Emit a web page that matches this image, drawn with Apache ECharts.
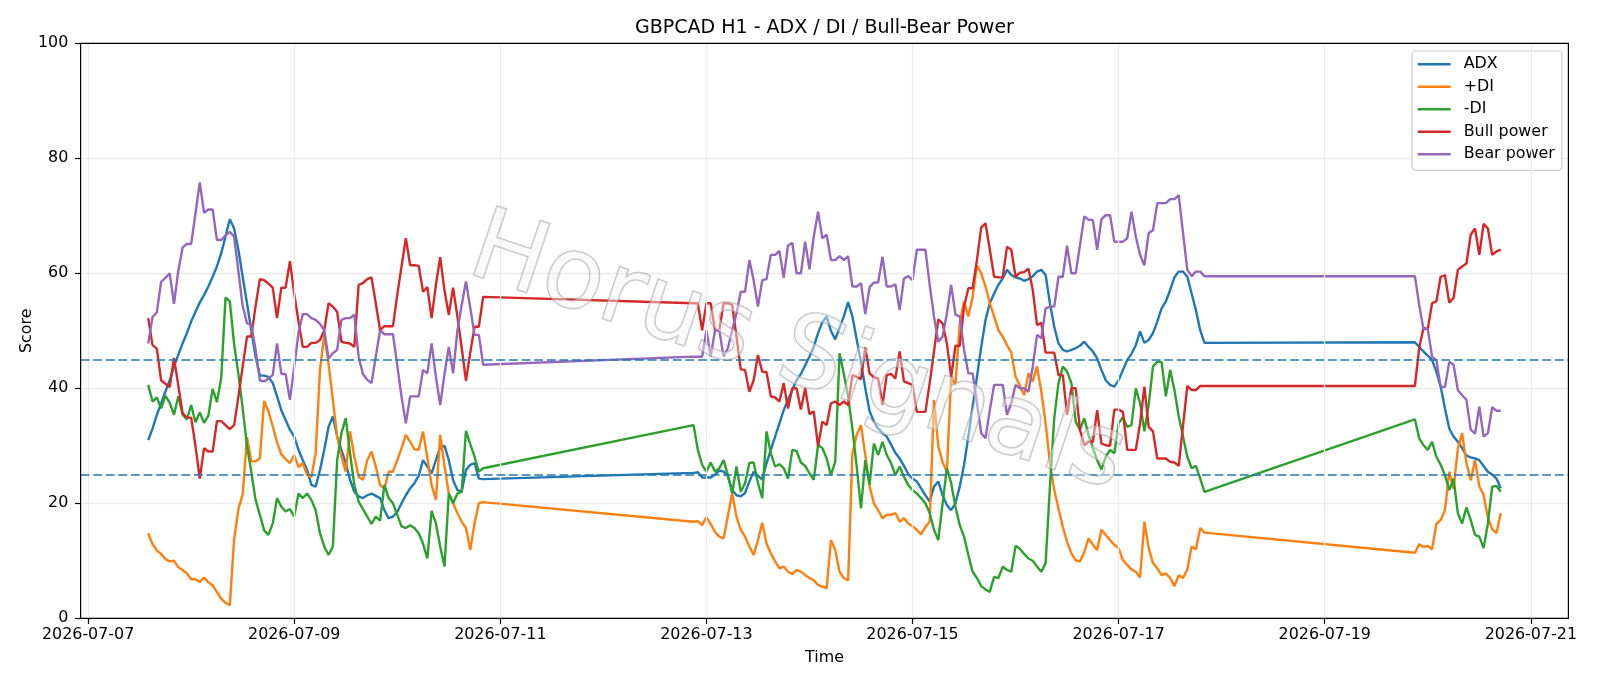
<!DOCTYPE html>
<html><head><meta charset="utf-8">
<script src="https://cdn.jsdelivr.net/npm/echarts@6/dist/echarts.min.js"></script>
<style>html,body{margin:0;padding:0;background:#fff}#c{width:1600px;height:686px}</style>
</head><body><div id="c"></div>
<script>
// hourly bars (UTC), three trading blocks separated by weekends
const segStarts = ['2026-07-07T14:00:00Z', '2026-07-12T21:00:00Z', '2026-07-19T21:00:00Z'];
const segLengths = [79, 120, 21];

const adx = [
31.0,33.0,35.4,37.4,39.4,41.4,43.8,45.8,47.8,49.6,51.6,53.3,54.9,56.2,57.7,59.4,61.2,63.5,66.4,69.4,
67.8,64.1,59.4,54.8,50.1,45.5,42.2,42.2,42.0,40.9,38.6,36.2,34.5,32.8,31.6,29.3,27.5,25.8,23.2,22.9,
25.8,29.3,33.3,35.1,31.6,29.3,27.0,24.1,22.0,21.2,20.9,21.4,21.7,21.3,20.9,18.8,17.4,17.7,18.5,20.0,
21.4,22.6,23.5,24.8,27.5,26.4,25.2,27.5,29.8,30.0,27.5,24.0,22.3,22.0,25.8,26.7,27.0,24.3,24.2,
25.3,25.4,24.5,24.5,24.5,25.0,25.7,25.5,24.7,22.3,21.4,21.2,21.8,23.8,25.5,24.8,24.1,27.0,29.3,31.6,
33.9,36.2,38.0,39.7,41.4,42.5,44.0,45.5,47.2,49.6,51.5,52.5,50.0,48.5,50.5,52.5,55.0,52.5,48.5,44.5,
40.0,36.0,34.2,33.0,32.2,31.6,30.2,28.8,27.8,26.5,25.1,24.3,23.8,22.6,21.4,20.3,22.9,23.8,21.4,19.7,
18.8,20.0,22.9,26.7,31.6,36.8,42.0,47.2,51.9,54.8,56.5,58.0,59.1,60.6,59.7,59.3,59.1,58.7,59.0,59.5,
60.3,60.6,59.7,54.8,50.7,47.8,46.7,46.4,46.7,47.0,47.4,48.1,47.2,46.4,45.2,43.2,41.4,40.6,40.3,41.4,
43.2,44.9,46.0,47.5,49.9,47.9,48.4,49.6,51.6,53.9,55.1,57.1,59.3,60.3,60.3,59.4,56.5,53.6,50.1,47.9,
48.0,47.2,46.4,45.7,44.9,42.9,40.3,36.5,33.0,31.6,30.7,29.6,28.3,28.0,27.8,27.5,26.5,25.5,25.0,24.3,22.6
];
const plusDI = [
14.8,12.9,11.8,11.2,10.3,9.9,10.0,8.9,8.4,7.8,6.8,6.8,6.3,7.1,6.3,5.7,4.6,3.4,2.7,2.3,
13.7,19.0,21.6,31.5,27.3,27.3,27.8,37.8,36.0,33.4,30.6,28.5,27.7,27.0,28.4,26.3,27.0,24.9,24.6,28.7,
43.2,49.3,44.3,38.0,31.6,28.1,25.5,32.5,28.1,24.6,24.1,27.5,29.0,26.4,23.2,22.5,25.5,25.5,27.5,29.6,
31.9,30.7,29.4,29.3,32.5,28.0,23.2,20.6,31.9,26.5,21.7,20.0,18.3,16.8,15.7,11.9,16.5,20.0,20.2,
16.8,16.9,16.2,17.6,16.4,15.0,14.2,13.9,17.8,21.7,17.7,15.4,14.2,12.5,11.0,13.6,16.6,13.0,11.3,9.9,
8.7,9.0,8.1,7.7,8.4,8.1,7.5,7.0,6.6,5.8,5.5,5.2,13.6,11.9,8.1,7.0,6.6,28.7,31.9,33.6,
28.4,22.9,20.0,18.8,17.4,18.0,18.0,18.3,16.8,17.4,16.5,16.0,15.4,14.6,15.9,16.8,38.0,29.9,27.2,25.5,
42.0,40.6,51.3,55.1,52.5,55.9,61.4,60.0,57.7,54.8,52.5,50.1,49.0,47.5,46.2,42.0,40.5,38.8,42.6,41.2,
43.8,39.4,33.9,27.0,22.3,19.1,15.9,13.3,11.3,10.1,9.9,11.5,13.9,12.8,11.9,15.4,14.5,13.6,12.8,12.2,
10.1,9.3,8.5,8.1,7.1,16.8,12.2,9.6,8.7,7.5,7.8,7.0,5.6,7.5,7.0,8.5,12.5,12.0,15.7,14.9,
11.4,12.9,12.4,12.6,12.0,16.4,17.1,18.8,25.5,22.5,29.5,32.2,27.0,24.0,27.5,23.0,21.5,17.5,15.5,14.8,18.3
];
const minusDI = [
40.6,37.7,38.4,36.5,38.7,37.5,35.4,38.6,35.4,34.6,37.1,34.1,35.8,34.0,35.2,39.9,37.6,41.8,55.8,55.1,
47.7,42.5,36.5,30.0,25.5,20.6,18.0,15.3,14.5,16.5,20.9,19.4,18.6,19.0,17.7,21.7,20.9,21.7,20.6,18.8,
14.8,12.5,11.0,12.5,27.5,32.2,34.8,28.7,23.2,20.3,19.0,17.7,16.4,17.7,17.0,23.2,20.9,20.0,18.0,16.0,
15.7,16.2,15.7,14.8,13.0,10.4,18.7,16.5,12.5,9.0,21.7,20.0,21.7,22.0,32.6,30.3,28.1,25.5,26.1,
33.6,29.3,26.7,25.5,27.1,25.5,26.1,27.5,24.9,21.7,26.4,22.0,23.5,27.0,27.1,23.5,20.9,32.5,28.7,26.4,
26.8,26.1,24.3,29.3,29.1,27.1,26.5,25.2,24.1,30.1,29.6,27.8,24.9,27.2,46.1,42.5,38.6,33.0,26.4,19.1,
27.5,23.2,30.4,28.4,30.7,28.4,27.0,24.9,26.4,24.6,23.2,22.3,21.7,20.9,20.0,18.3,15.4,13.6,20.0,26.1,
23.5,19.4,16.2,14.2,11.0,8.1,7.0,5.6,5.0,4.6,7.2,7.0,9.0,8.4,8.1,12.6,12.1,11.2,10.4,10.0,
9.0,8.1,9.6,22.9,34.8,40.9,43.8,42.9,40.9,34.2,32.8,34.8,31.9,29.6,27.5,25.9,28.1,29.3,28.7,33.9,
35.0,33.3,33.6,40.0,37.4,32.5,37.1,43.8,44.6,44.6,38.6,43.2,39.7,35.1,31.6,28.1,26.1,26.5,24.3,22.0,
34.6,31.3,30.1,29.3,30.7,28.1,26.7,24.9,22.3,24.3,18.3,16.5,19.3,17.1,14.5,14.2,12.2,16.5,22.9,23.0,22.0
];
const bullPower = [
52.2,47.5,46.9,41.4,40.8,40.2,45.3,40.5,35.7,34.9,34.9,30.0,24.3,29.6,29.0,29.0,34.3,34.3,33.6,32.9,
33.6,38.5,43.8,49.0,49.0,54.3,59.0,58.8,58.2,57.5,52.2,57.5,57.5,62.1,56.5,51.6,47.2,47.2,47.9,47.9,
48.4,50.1,54.8,54.2,53.3,48.1,47.9,47.8,47.2,58.0,58.3,59.0,59.3,54.8,50.1,50.8,50.8,50.8,56.3,61.2,
66.1,61.4,61.4,61.3,56.8,57.6,52.2,58.0,62.8,57.0,52.8,57.5,52.5,47.1,41.3,46.2,50.7,50.7,55.9,
54.8,54.8,50.1,54.8,54.8,50.1,50.1,54.8,54.8,54.5,49.0,43.3,43.2,39.4,41.4,45.8,42.9,42.8,38.6,38.4,
37.7,40.9,36.5,40.0,40.0,36.3,40.0,35.5,36.0,29.9,34.2,33.6,37.4,37.7,37.1,37.7,37.1,42.3,42.0,41.6,
47.1,42.6,41.9,41.7,37.1,42.3,42.5,41.7,46.4,41.2,40.9,40.6,35.9,35.9,35.9,40.9,46.4,52.0,51.3,47.8,
42.0,47.4,47.4,54.2,57.4,57.4,62.3,68.0,68.7,64.1,59.4,59.3,59.3,64.6,64.1,59.4,60.1,60.2,60.8,57.1,
51.0,51.4,46.2,46.2,46.2,42.3,42.3,35.4,40.0,40.0,32.8,30.1,30.7,30.7,36.2,30.4,30.1,30.0,36.3,36.3,
35.9,29.3,29.3,29.3,33.9,40.3,33.3,32.5,27.8,27.8,27.8,27.2,27.1,26.5,33.5,40.4,39.7,39.7,40.4,40.4,
40.4,47.0,50.5,50.3,54.8,55.1,59.4,59.7,54.9,55.7,60.6,61.2,61.7,66.7,67.8,63.2,68.6,67.8,63.2,63.8,64.1
];
const bearPower = [
47.8,52.4,53.2,58.5,59.2,60.0,54.7,60.4,64.5,65.1,65.1,70.4,75.8,70.5,71.1,71.1,65.8,65.8,66.6,67.2,
66.4,60.4,54.3,51.3,51.1,46.7,41.4,41.2,41.7,42.3,47.8,42.5,42.5,38.0,43.7,49.7,52.9,52.9,52.2,51.9,
51.2,50.1,45.2,46.1,46.7,51.9,52.2,52.2,52.8,45.5,42.5,41.5,40.9,45.5,50.1,49.4,49.4,49.4,44.0,38.5,
33.9,38.6,38.6,38.6,43.2,42.6,47.8,42.0,37.1,42.5,47.2,42.6,50.0,54.5,58.6,54.0,49.3,49.3,44.1,
45.5,45.5,45.5,50.1,45.5,50.1,50.1,45.5,47.0,50.1,53.0,56.8,56.8,62.3,58.8,54.2,58.8,59.0,63.2,63.2,
63.9,59.2,64.8,65.3,60.0,60.0,65.5,60.7,66.4,70.7,66.1,66.7,62.3,62.3,63.0,62.3,63.0,57.7,57.7,58.3,
52.9,57.6,58.4,58.4,62.9,57.7,57.7,58.1,53.6,59.1,59.5,58.8,64.1,64.1,64.1,58.0,52.5,48.1,49.0,53.0,
58.0,52.8,52.5,46.7,42.6,42.6,37.4,32.2,31.3,36.2,40.6,40.6,40.6,35.4,37.4,40.6,40.0,40.0,39.4,43.8,
49.3,48.7,53.9,54.2,54.2,59.4,59.4,64.8,60.0,60.0,64.9,69.9,69.3,69.3,64.1,69.4,70.1,70.1,65.5,65.5,
65.5,66.1,70.7,66.4,63.2,61.4,67.0,67.5,72.2,72.2,72.2,72.9,72.9,73.6,67.0,60.6,59.5,60.3,60.3,59.5,
59.5,54.5,50.3,50.3,45.5,44.9,40.3,40.2,44.6,44.1,39.7,38.8,38.0,32.8,32.1,36.8,31.6,32.2,36.7,36.1,36.1
];

const xTickLabels = ['2026-07-07','2026-07-09','2026-07-11','2026-07-13','2026-07-15','2026-07-17','2026-07-19','2026-07-21'];
const yTicks = [0, 20, 40, 60, 80, 100];
const refLevels = [45, 25];
const seriesNames = ['ADX', '+DI', '-DI', 'Bull power', 'Bear power'];
const seriesColors = ['#1f77b4', '#ff7f0e', '#2ca02c', '#d62728', '#9467bd'];
const seriesValues = [adx, plusDI, minusDI, bullPower, bearPower];

const H = 3600 * 1000;
const times = [];
segStarts.forEach((s, k) => {
  const t0 = Date.parse(s);
  for (let i = 0; i < segLengths[k]; i++) times.push(t0 + i * H);
});
const tickVals = xTickLabels.map(d => Date.parse(d + 'T00:00:00Z'));
const tFirst = times[0], tLast = times[times.length - 1];
const pad = (tLast - tFirst) * 0.05;
const FONT = 'DejaVu Sans';
const pad2 = n => String(n).padStart(2, '0');
const fmt = v => { const d = new Date(v); return d.getUTCFullYear() + '-' + pad2(d.getUTCMonth() + 1) + '-' + pad2(d.getUTCDate()); };

const G = { left: 80.6, top: 43.3, right: 1568.4, bottom: 618.3 };

const chart = echarts.init(document.getElementById('c'), null, { renderer: 'canvas' });
const series = seriesNames.map((n, k) => ({
  name: n, type: 'line', symbol: 'none', showSymbol: false, z: 3,
  color: seriesColors[k],
  lineStyle: { width: 2.4, color: seriesColors[k] },
  data: times.map((t, i) => [t, seriesValues[k][i]])
}));
series.unshift({
  name: 'vgrid', type: 'line', data: [], z: 1, silent: true,
  markLine: { silent: true, symbol: 'none', label: { show: false },
    lineStyle: { color: '#ebebeb', width: 1.3, type: 'solid' },
    data: tickVals.map(v => ({ xAxis: v })) }
});
series.push({
  name: 'levels', type: 'line', data: [], z: 5, silent: true,
  markLine: { silent: true, symbol: 'none', label: { show: false },
    lineStyle: { color: '#1f77b4', width: 1.5, type: [8.8, 3.8] },
    data: refLevels.map(v => ({ yAxis: v })) }
});

chart.setOption({
  animation: false,
  backgroundColor: '#fff',
  textStyle: { fontFamily: FONT },
  grid: { left: G.left, right: 1600 - G.right, top: G.top, bottom: 686 - G.bottom, show: false },
  xAxis: {
    type: 'value', min: tFirst - pad, max: tLast + pad,
    axisLine: { show: false },
    splitLine: { show: false },
    axisTick: { show: true, customValues: tickVals, length: 5.6, inside: false, lineStyle: { color: '#000', width: 1.2 } },
    axisLabel: { customValues: tickVals, formatter: fmt, color: '#000', fontSize: 15.9, margin: 8.5, fontFamily: FONT }
  },
  yAxis: {
    type: 'value', min: yTicks[0], max: yTicks[yTicks.length - 1], interval: 20,
    axisLine: { show: false },
    axisTick: { show: true, length: 5.6, inside: false, lineStyle: { color: '#000', width: 1.2 } },
    axisLabel: { color: '#000', fontSize: 15.9, margin: 12.3, fontFamily: FONT },
    splitLine: { show: true, lineStyle: { color: '#ebebeb', width: 1.3 } }
  },
  legend: {
    data: seriesNames, orient: 'vertical', left: 1412, top: 51,
    icon: 'rect', itemWidth: 33, itemHeight: 2.4, itemGap: 6.5,
    padding: [5.3, 7, 8, 5.7],
    backgroundColor: 'rgba(255,255,255,0.8)', borderColor: '#cccccc', borderWidth: 1.2, borderRadius: 4,
    textStyle: { fontSize: 15.9, color: '#000', fontFamily: FONT, padding: [0, 0, 0, 8] }
  },
  graphic: [
    { type: 'rect', z: 60, silent: true, shape: { x: G.left, y: G.top, width: G.right - G.left, height: G.bottom - G.top },
      style: { fill: 'none', stroke: '#000', lineWidth: 1.2 } },
    { type: 'text', x: 824.5, y: 28.5, style: { text: 'GBPCAD H1 - ADX / DI / Bull-Bear Power', font: '19px "DejaVu Sans"', fill: '#000', align: 'center', verticalAlign: 'middle' } },
    { type: 'text', x: 824.5, y: 658, style: { text: 'Time', font: '15.9px "DejaVu Sans"', fill: '#000', align: 'center', verticalAlign: 'middle' } },
    { type: 'text', x: 26.5, y: 330.8, rotation: Math.PI / 2, style: { text: 'Score', font: '15.9px "DejaVu Sans"', fill: '#000', align: 'center', verticalAlign: 'middle' } },
    { type: 'text', x: 797, y: 356, rotation: -18.5 * Math.PI / 180, z: 50, silent: true,
      style: { text: 'Horus Signals', font: '100px "DejaVu Sans"', fill: 'rgba(245,245,245,0.45)', stroke: 'rgba(140,140,140,0.55)', lineWidth: 1.6, align: 'center', verticalAlign: 'middle' } }
  ],
  series: series
});
</script></body></html>
